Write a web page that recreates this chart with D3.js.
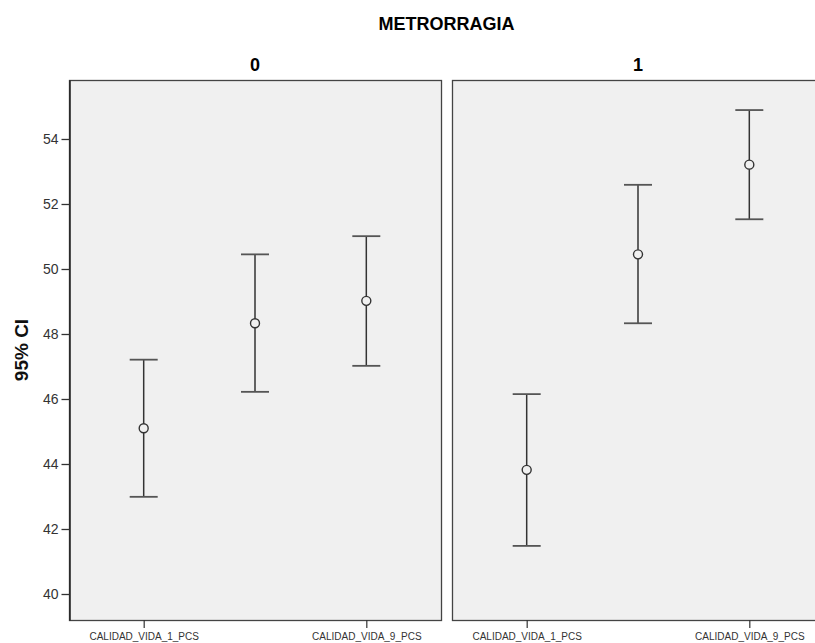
<!DOCTYPE html>
<html><head><meta charset="utf-8">
<script src="https://cdn.jsdelivr.net/npm/d3@7"></script>
<style>body{margin:0;background:#fff}svg{display:block}text{font-family:"Liberation Sans",Arial,sans-serif}</style>
</head><body>
<svg id="c" width="815" height="643"></svg>
<script>
const title = "METRORRAGIA";
const yLabel = "95% CI";
const panels = ["0", "1"];
const categories = ["CALIDAD_VIDA_1_PCS", "CALIDAD_VIDA_5_PCS", "CALIDAD_VIDA_9_PCS"];
const shownLabels = ["CALIDAD_VIDA_1_PCS", "CALIDAD_VIDA_9_PCS"];
const mean0 = [45.10, 48.33, 49.02];
const lower0 = [42.99, 46.22, 47.02];
const upper0 = [47.21, 50.45, 51.01];
const mean1 = [43.82, 50.45, 53.21];
const lower1 = [41.48, 48.33, 51.53];
const upper1 = [46.15, 52.59, 54.89];
const yTicks = [40, 42, 44, 46, 48, 50, 52, 54];
const yDomain = [39.2, 55.815];

const series = [
  {panel: "0", mean: mean0, lower: lower0, upper: upper0},
  {panel: "1", mean: mean1, lower: lower1, upper: upper1}
];

const svg = d3.select("#c");
const plotTop = 80, plotBottom = 620;
const panelX = d3.scaleBand().domain(panels).range([69, 824]).paddingInner(0.0287).paddingOuter(0);
const y = d3.scaleLinear().domain(yDomain).range([plotBottom, plotTop]);

svg.append("text").attr("x", (69 + 824) / 2).attr("y", 30).attr("text-anchor", "middle")
  .attr("font-size", 18).attr("font-weight", "bold").attr("fill", "#000").text(title);

svg.append("text").attr("transform", `translate(28,${(plotTop + plotBottom) / 2}) rotate(-90)`)
  .attr("text-anchor", "middle").attr("font-size", 19).attr("font-weight", "bold").attr("fill", "#111").text(yLabel);

series.forEach(s => {
  const x0 = panelX(s.panel), w = panelX.bandwidth();
  const g = svg.append("g");
  g.append("rect").attr("x", x0 + 0.5).attr("y", plotTop + 0.5).attr("width", w).attr("height", plotBottom - plotTop)
    .attr("fill", "#f0f0f0").attr("stroke", "#444").attr("stroke-width", 1.3);
  svg.append("text").attr("x", x0 + w / 2).attr("y", 71).attr("text-anchor", "middle")
    .attr("font-size", 18).attr("font-weight", "bold").attr("fill", "#000").text(s.panel);

  const x = d3.scalePoint().domain(categories).range([x0, x0 + w]).padding(0.671);

  const xa = g.append("g").attr("transform", `translate(0,${plotBottom})`)
    .call(d3.axisBottom(x).tickValues(shownLabels).tickSize(8).tickSizeOuter(0).tickPadding(5));
  xa.select(".domain").remove();
  xa.selectAll("line").attr("stroke", "#333").attr("stroke-width", 1.2);
  xa.selectAll("text").attr("font-size", 10).attr("fill", "#333").attr("font-family", '"Liberation Sans",Arial,sans-serif');

  const data = categories.map((c, i) => ({c, m: s.mean[i], lo: s.lower[i], hi: s.upper[i]}));
  const eb = g.selectAll("g.eb").data(data).join("g").attr("class", "eb");
  eb.append("line").attr("x1", d => x(d.c)).attr("x2", d => x(d.c))
    .attr("y1", d => y(d.lo)).attr("y2", d => y(d.hi)).attr("stroke", "#333").attr("stroke-width", 1.5);
  eb.append("line").attr("x1", d => x(d.c) - 14).attr("x2", d => x(d.c) + 14)
    .attr("y1", d => y(d.hi)).attr("y2", d => y(d.hi)).attr("stroke", "#555").attr("stroke-width", 1.8);
  eb.append("line").attr("x1", d => x(d.c) - 14).attr("x2", d => x(d.c) + 14)
    .attr("y1", d => y(d.lo)).attr("y2", d => y(d.lo)).attr("stroke", "#555").attr("stroke-width", 1.8);
  eb.append("circle").attr("cx", d => x(d.c)).attr("cy", d => y(d.m)).attr("r", 4.5)
    .attr("fill", "#f0f0f0").attr("stroke", "#333").attr("stroke-width", 1.4);
});

const ya = svg.append("g").attr("transform", `translate(${panelX("0") + 0.5},0)`)
  .call(d3.axisLeft(y).tickValues(yTicks).tickSize(8).tickSizeOuter(0).tickPadding(3));
ya.select(".domain").attr("stroke", "#222").attr("stroke-width", 1.5);
ya.selectAll("line").attr("stroke", "#333").attr("stroke-width", 1.3);
ya.selectAll("text").attr("font-size", 14).attr("fill", "#333").attr("font-family", '"Liberation Sans",Arial,sans-serif');
</script>
</body></html>
